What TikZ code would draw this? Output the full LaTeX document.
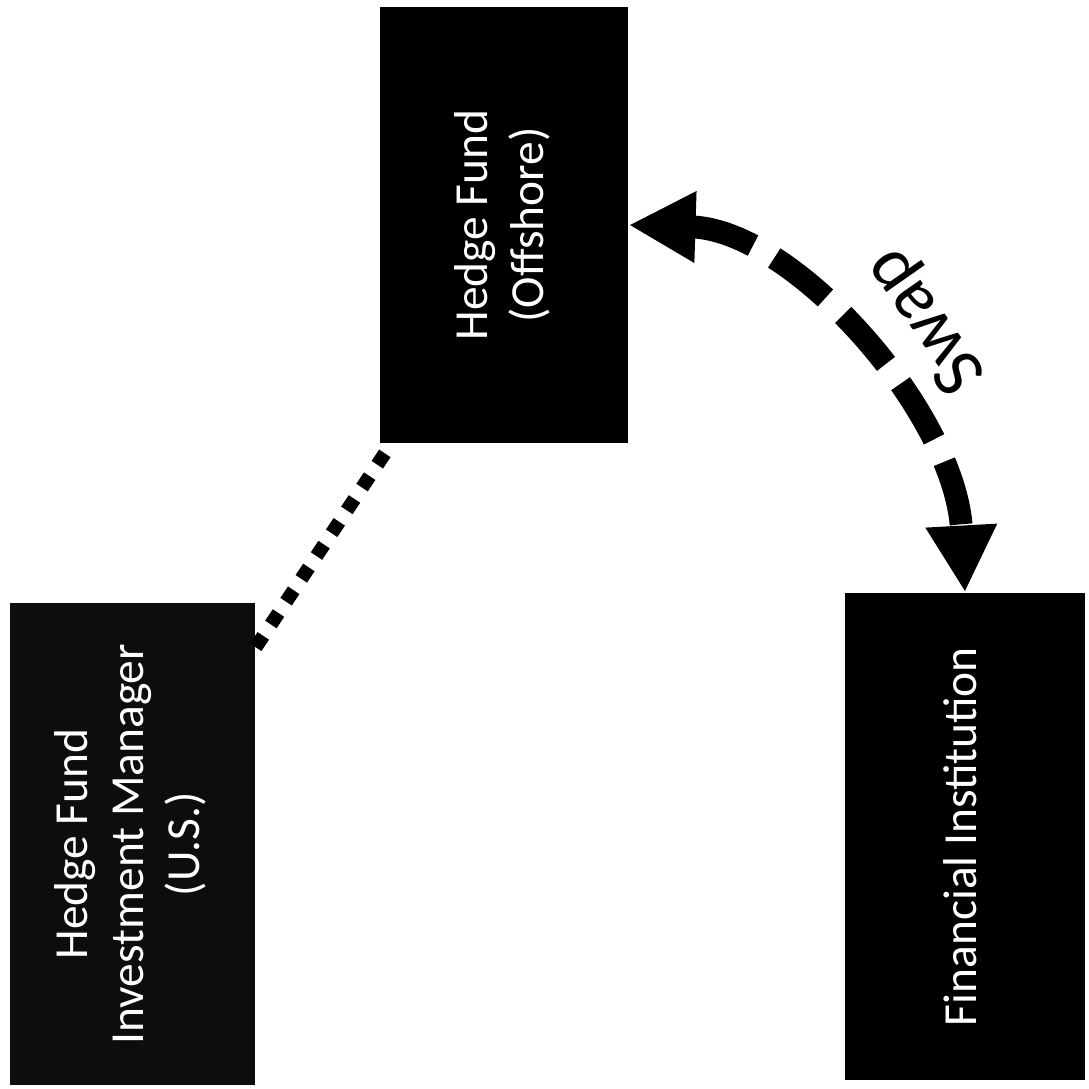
\documentclass[tikz,border=0pt]{standalone}
\usepackage{fontspec}
\setmainfont{Carlito}
\usepackage{graphicx}
\usetikzlibrary{arrows.meta}
\tikzset{>={Triangle[length=19pt, width=19pt]}}
\tikzset{
    party/.style={fill=black, text=white, inner sep=0pt, font=\fontsize{13.5}{16}\selectfont},
    swaplabel/.style={rotate=125, inner sep=0pt, font=\fontsize{21}{25}\selectfont},
}
\newcommand*{\vtext}[1]{\rotatebox{90}{\begin{tabular}{@{}c@{}}#1\end{tabular}}}

\begin{document}
\begin{tikzpicture}
    \useasboundingbox(0, 0)rectangle(10.89, -10.89);
    \node[party, minimum width=2.48cm, minimum height=4.36cm](offshore)at(5.04, -2.25){\vtext{Hedge Fund\\(Offshore)}};
    \node[party, fill=black!95, minimum width=2.45cm, minimum height=4.82cm](manager)at(1.325, -8.44){\vtext{Hedge Fund\\Investment Manager\\(U.S.)}};
    \node[party, minimum width=2.4cm, minimum height=4.87cm](institution)at(9.65, -8.365){\vtext{Financial Institution}};
    % dotted link manager -- fund
    \draw[line width=3.9pt, dash pattern=on 3.9pt off 3.9pt]([yshift=-0.45cm]manager.north east)--([xshift=0.12cm]offshore.south west);
    \draw[<->, line width=6.5pt, dash pattern=on 18.5pt off 7pt](offshore.east)..controls +(1.65, -0.05) and +(-0.1, 1.8)..(institution.north);
    \node[swaplabel](swap)at(9.27, -3.2){Swap};
\end{tikzpicture}
\end{document}
